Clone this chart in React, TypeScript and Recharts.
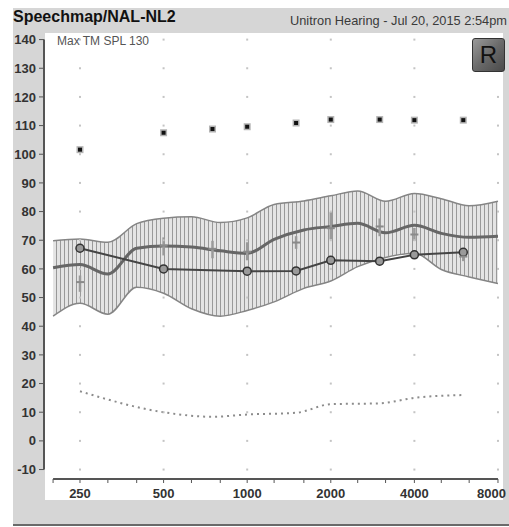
import {
  ComposedChart,
  XAxis,
  YAxis,
  Area,
  Line,
  Scatter,
  ErrorBar,
  ReferenceLine,
} from "recharts";

// third-octave frequencies used for the band, the LTASS line and the x ticks
const bandFreqs = [200, 250, 315, 400, 500, 630, 800, 1000, 1250, 1600, 2000, 2500, 3150, 4000, 5000, 6300, 8000];
const bandHigh = [69.8, 70.4, 69.3, 75.8, 77.7, 78.2, 76.2, 77.8, 82.5, 83.7, 85.5, 87.2, 83.6, 86.3, 84.5, 82.0, 83.6];
const bandLow = [43.5, 48.0, 44.2, 53.6, 51.5, 46.1, 43.5, 45.5, 48.5, 53.2, 55.8, 60.8, 64.0, 65.5, 59.8, 57.2, 54.9];
const ltass = [60.4, 61.5, 58.2, 67.2, 68.0, 67.6, 66.3, 65.4, 70.3, 73.6, 74.8, 75.9, 72.6, 75.2, 72.4, 71.0, 71.4];

const labelFreqs = [250, 500, 1000, 2000, 4000, 8000];
const levelTicks = [-10, 0, 10, 20, 30, 40, 50, 60, 70, 80, 90, 100, 110, 120, 130, 140];

const targetFreqs = [250, 500, 1000, 1500, 2000, 3000, 4000, 6000];
const targetLevels = [67.2, 60.0, 59.2, 59.3, 63.0, 62.7, 64.9, 65.8];

const audFreqs = [250, 500, 750, 1000, 1500, 2000, 3000, 4000, 6000];
const maxTm = [101.6, 107.5, 108.8, 109.6, 110.9, 112.1, 112.1, 111.9, 111.9];
const threshold = [17.3, 10.0, 8.4, 9.2, 9.8, 12.8, 13.1, 15.0, 16.0];
const measMid = [55.4, 68.1, 67.0, 66.0, 69.2, 74.2, 74.8, 72.0, 64.3];
const measLow = [52.0, 64.7, 63.7, 63.0, 67.0, 70.3, 71.4, 69.8, 62.7];
const measHigh = [57.7, 71.0, 69.8, 69.3, 71.4, 79.8, 77.6, 74.3, 66.0];

const xDomain = [185.5, 8340];
const yDomain = [-13.3, 142.3];

const font = "'Liberation Sans', Arial, sans-serif";

const MaxMark = (p: any) => (
  <g>
    <rect x={p.cx - 3.5} y={p.cy - 3.5} width={7} height={7} fill="#b4b4b4" />
    <rect x={p.cx - 2} y={p.cy - 2} width={4} height={4} fill="#111" />
  </g>
);

const CrossMark = (p: any) => (
  <rect x={p.cx - 4} y={p.cy - 1} width={8} height={2} fill="#8a8a8a" />
);

const GridDot = (p: any) => (
  <rect x={p.cx - 1} y={p.cy - 1} width={2} height={2} fill="#c4c4c4" />
);

// only octave ticks get a label; the last one is pulled inside the frame
const FreqTick = (p: any) => {
  const v = p.payload.value;
  if (!labelFreqs.includes(v)) return <g />;
  const last = v === labelFreqs[labelFreqs.length - 1];
  return (
    <text
      x={last ? p.x + 8 : p.x}
      y={p.y}
      dy="0.71em"
      textAnchor={last ? "end" : "middle"}
      fill="#333"
      fontSize={13}
      fontWeight="bold"
      fontFamily={font}
    >
      {v}
    </text>
  );
};

export default function App() {
  const bandData = bandFreqs.map((f, i) => ({ f, range: [bandLow[i], bandHigh[i]], ltass: ltass[i] }));
  const targetData = targetFreqs.map((f, i) => ({ f, v: targetLevels[i] }));
  const maxData = audFreqs.map((f, i) => ({ f, v: maxTm[i] }));
  const threshData = audFreqs.map((f, i) => ({ f, v: threshold[i] }));
  const measData = audFreqs.map((f, i) => ({
    f,
    v: measMid[i],
    err: [measMid[i] - measLow[i], measHigh[i] - measMid[i]],
  }));
  const gridData = labelFreqs.flatMap((f) => levelTicks.map((v) => ({ f, v })));

  return (
    <div
      style={{
        position: "absolute",
        left: 0,
        top: 0,
        width: 509,
        height: 527,
        background: "#fff",
        fontFamily: font,
        overflow: "hidden",
      }}
    >
      <div
        style={{
          position: "absolute",
          left: 13,
          top: 8,
          width: 496,
          height: 516,
          background: "#d6d6d6",
          borderBottom: "2px solid #6a6a6a",
        }}
      />
      <div style={{ position: "absolute", left: 45, top: 33, width: 458, height: 467, background: "#fff" }} />

      <div
        style={{
          position: "absolute",
          left: 13,
          top: 9,
          fontSize: 16,
          lineHeight: "16px",
          fontWeight: "bold",
          color: "#111",
          whiteSpace: "nowrap",
        }}
      >
        Speechmap/NAL-NL2
      </div>
      <div
        style={{
          position: "absolute",
          left: 290,
          top: 14,
          fontSize: 12.8,
          lineHeight: "14px",
          color: "#3a3a3a",
          whiteSpace: "nowrap",
        }}
      >
        Unitron Hearing - Jul 20, 2015 2:54pm
      </div>

      <ComposedChart
        width={509}
        height={527}
        data={bandData}
        margin={{ top: 33, right: 6, bottom: 24, left: 0 }}
        style={{ position: "absolute", left: 0, top: 0 }}
      >
        <defs>
          <pattern id="hatch" width="4" height="4" patternUnits="userSpaceOnUse">
            <rect width="4" height="4" fill="#e4e4e4" />
            <rect x="0" y="0" width="1" height="4" fill="#999" />
          </pattern>
        </defs>
        <XAxis
          dataKey="f"
          type="number"
          scale="log"
          domain={xDomain}
          allowDataOverflow
          ticks={bandFreqs}
          interval={0}
          axisLine={false}
          tickLine={{ stroke: "#555" }}
          tickSize={4}
          tickMargin={6}
          tick={<FreqTick />}
          height={24}
        />
        <YAxis
          type="number"
          domain={yDomain}
          allowDataOverflow
          ticks={levelTicks}
          interval={0}
          axisLine={false}
          tickLine={{ stroke: "#555" }}
          tickSize={5}
          tickMargin={3}
          tick={{ fill: "#333", fontSize: 13, fontWeight: "bold", fontFamily: font }}
          width={44}
        />
        <Scatter data={gridData} dataKey="v" shape={GridDot} isAnimationActive={false} />
        <Area
          dataKey="range"
          type="monotone"
          fill="url(#hatch)"
          fillOpacity={1}
          stroke="#858585"
          strokeWidth={1.5}
          dot={false}
          activeDot={false}
          isAnimationActive={false}
        />
        <Line
          dataKey="ltass"
          type="monotone"
          stroke="#666"
          strokeWidth={3}
          dot={false}
          activeDot={false}
          isAnimationActive={false}
        />
        <Line
          data={threshData}
          dataKey="v"
          type="monotone"
          stroke="#8c8c8c"
          strokeWidth={2}
          strokeDasharray="2 4"
          dot={false}
          activeDot={false}
          isAnimationActive={false}
        />
        <Line
          data={targetData}
          dataKey="v"
          type="linear"
          stroke="#444"
          strokeWidth={2}
          dot={{ r: 4, stroke: "#333", strokeWidth: 1.5, fill: "#9a9a9a" }}
          activeDot={false}
          isAnimationActive={false}
        />
        <Scatter data={measData} dataKey="v" shape={CrossMark} isAnimationActive={false}>
          <ErrorBar dataKey="err" direction="y" width={0} stroke="#9a9a9a" strokeWidth={2.5} />
        </Scatter>
        <Scatter data={maxData} dataKey="v" shape={MaxMark} isAnimationActive={false} />
        <ReferenceLine
          segment={[
            { x: 200, y: yDomain[0] },
            { x: 8000, y: yDomain[0] },
          ]}
          stroke="#555"
          strokeWidth={2}
        />
        <ReferenceLine
          segment={[
            { x: xDomain[0], y: -10 },
            { x: xDomain[0], y: 140 },
          ]}
          stroke="#555"
          strokeWidth={2}
        />
      </ComposedChart>

      <div
        style={{
          position: "absolute",
          left: 57,
          top: 35,
          fontSize: 12,
          lineHeight: "12px",
          color: "#555",
          whiteSpace: "nowrap",
        }}
      >
        Max TM SPL 130
      </div>
      <div
        style={{
          position: "absolute",
          left: 472,
          top: 38,
          width: 33,
          height: 34,
          borderRadius: 3,
          border: "1px solid #333",
          boxSizing: "border-box",
          background: "linear-gradient(135deg, #9a9a9a 0%, #6a6a6a 50%, #4a4a4a 100%)",
          color: "#111",
          fontSize: 24,
          lineHeight: "32px",
          textAlign: "center",
        }}
      >
        R
      </div>
    </div>
  );
}
